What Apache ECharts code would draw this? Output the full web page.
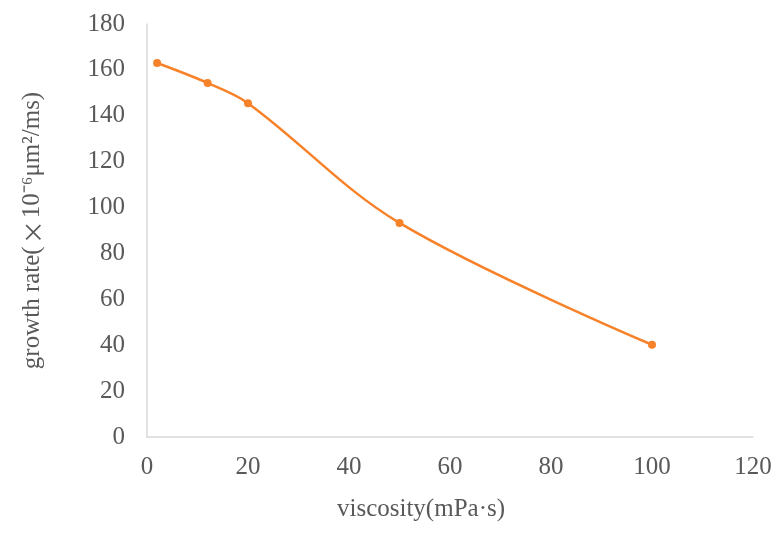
<!DOCTYPE html>
<html>
<head>
<meta charset="utf-8">
<script src="https://cdn.jsdelivr.net/npm/echarts@6/dist/echarts.min.js"></script>
<style>
  html, body { margin: 0; padding: 0; background: #fff; }
  #main { width: 782px; height: 534px; }
</style>
</head>
<body>
<div id="main"></div>
<script>
// viscosity (mPa·s) vs growth rate
var viscosity = [2, 12, 20, 50, 100];
var growthRate = [163, 154.3, 145.5, 93.3, 40.2];

var pts = [];
for (var i = 0; i < viscosity.length; i++) {
    pts.push([viscosity[i], growthRate[i]]);
}

var font = '"Liberation Serif", "Times New Roman", serif';
var txt = '#595959';
var chart = echarts.init(document.getElementById('main'));
chart.setOption({
    animation: false,
    grid: { left: 147, right: 29, top: 24, bottom: 97 },
    xAxis: {
        type: 'value',
        min: 0, max: 120, interval: 20,
        name: 'viscosity(mPa·s)',
        nameLocation: 'middle',
        nameGap: 60,
        nameTextStyle: { fontFamily: font, fontSize: 25, color: txt, padding: [0, 58, 0, 0] },
        axisLine: { lineStyle: { color: '#d9d9d9', width: 1.5 } },
        axisTick: { show: false },
        splitLine: { show: false },
        axisLabel: { fontFamily: font, fontSize: 25, color: txt, margin: 18 }
    },
    yAxis: {
        type: 'value',
        min: 0, max: 180, interval: 20,
        name: '{a|growth rate(}{b|×}{a|10⁻⁶μm²/ms)}',
        nameLocation: 'middle',
        nameGap: 102,
        nameTextStyle: {
            fontFamily: font, fontSize: 25, color: txt,
            rich: {
                a: { fontFamily: font, fontSize: 25, color: txt },
                b: { fontFamily: '"Noto Sans CJK SC"', fontSize: 24, color: txt, padding: [0, 2, 0, 2] }
            }
        },
        axisLine: { show: true, lineStyle: { color: '#d9d9d9', width: 1.5 } },
        axisTick: { show: false },
        splitLine: { show: false },
        axisLabel: { fontFamily: font, fontSize: 25, color: txt, margin: 22 }
    },
    series: [{
        type: 'line',
        data: pts,
        smooth: 0.35,
        symbol: 'circle',
        symbolSize: 8,
        lineStyle: { color: '#F7822A', width: 2.5 },
        itemStyle: { color: '#F7822A' }
    }]
});
</script>
</body>
</html>
